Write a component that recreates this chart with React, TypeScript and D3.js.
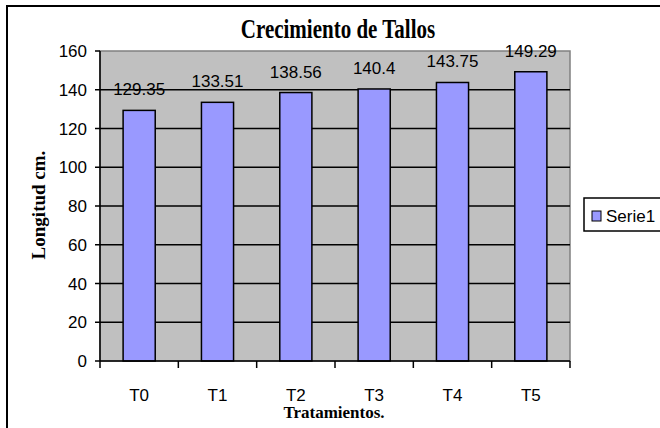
import { useEffect, useRef } from "react";
import * as d3 from "d3";

const categories = ["T0", "T1", "T2", "T3", "T4", "T5"];
const serie1 = [129.35, 133.51, 138.56, 140.4, 143.75, 149.29];
const yTicks = [0, 20, 40, 60, 80, 100, 120, 140, 160];

const SANS = "'Liberation Sans', Arial, sans-serif";
const SERIF = "'Liberation Serif', 'Times New Roman', serif";

export default function App() {
  const ref = useRef<SVGSVGElement>(null);

  useEffect(() => {
    const svg = d3.select(ref.current);
    svg.selectAll("*").remove();

    const plot = { left: 100, top: 51, right: 570, bottom: 361 };

    const x = d3
      .scaleBand()
      .domain(categories)
      .range([plot.left, plot.right])
      .padding(0);
    const y = d3.scaleLinear().domain([0, 160]).range([plot.bottom, plot.top]);
    const barW = x.bandwidth() * 0.41;

    // outer chart frame (clipped at right and bottom like the original)
    svg
      .append("rect")
      .attr("x", 7)
      .attr("y", 6)
      .attr("width", 700)
      .attr("height", 500)
      .attr("fill", "#fff")
      .attr("stroke", "#000")
      .attr("stroke-width", 2);

    // plot area
    svg
      .append("rect")
      .attr("x", plot.left)
      .attr("y", plot.top)
      .attr("width", plot.right - plot.left)
      .attr("height", plot.bottom - plot.top)
      .attr("fill", "#c0c0c0")
      .attr("stroke", "#808080")
      .attr("stroke-width", 1.5);

    // gridlines
    svg
      .append("g")
      .selectAll("line")
      .data(yTicks.filter((d) => d > 0 && d < 160))
      .join("line")
      .attr("x1", plot.left)
      .attr("x2", plot.right)
      .attr("y1", (d) => y(d))
      .attr("y2", (d) => y(d))
      .attr("stroke", "#000")
      .attr("stroke-width", 1.5);

    // bars
    svg
      .append("g")
      .selectAll("rect")
      .data(serie1)
      .join("rect")
      .attr("x", (_, i) => (x(categories[i]) as number) + x.bandwidth() / 2 - barW / 2)
      .attr("y", (d) => y(d))
      .attr("width", barW)
      .attr("height", (d) => plot.bottom - y(d))
      .attr("fill", "#9999ff")
      .attr("stroke", "#000")
      .attr("stroke-width", 1.5);

    // data labels
    svg
      .append("g")
      .selectAll("text")
      .data(serie1)
      .join("text")
      .attr("x", (_, i) => (x(categories[i]) as number) + x.bandwidth() / 2)
      .attr("y", (d) => y(d) - 15)
      .attr("text-anchor", "middle")
      .style("font-family", SANS)
      .style("font-size", "17px")
      .text((d) => String(d));

    // y axis
    const yAxis = svg.append("g");
    yAxis
      .append("line")
      .attr("x1", plot.left)
      .attr("x2", plot.left)
      .attr("y1", plot.top)
      .attr("y2", plot.bottom)
      .attr("stroke", "#000")
      .attr("stroke-width", 1.5);
    yAxis
      .selectAll("line.tick")
      .data(yTicks)
      .join("line")
      .attr("class", "tick")
      .attr("x1", plot.left - 5)
      .attr("x2", plot.left)
      .attr("y1", (d) => y(d))
      .attr("y2", (d) => y(d))
      .attr("stroke", "#000")
      .attr("stroke-width", 1.5);
    yAxis
      .selectAll("text")
      .data(yTicks)
      .join("text")
      .attr("x", 87)
      .attr("y", (d) => y(d))
      .attr("dy", "0.36em")
      .attr("text-anchor", "end")
      .style("font-family", SANS)
      .style("font-size", "17px")
      .text((d) => d);

    // x axis
    const xAxis = svg.append("g");
    xAxis
      .append("line")
      .attr("x1", plot.left)
      .attr("x2", plot.right)
      .attr("y1", plot.bottom)
      .attr("y2", plot.bottom)
      .attr("stroke", "#000")
      .attr("stroke-width", 1.5);
    const bounds = [...categories.map((c) => x(c) as number), plot.right];
    xAxis
      .selectAll("line.tick")
      .data(bounds)
      .join("line")
      .attr("class", "tick")
      .attr("x1", (d) => d)
      .attr("x2", (d) => d)
      .attr("y1", plot.bottom)
      .attr("y2", plot.bottom + 7)
      .attr("stroke", "#000")
      .attr("stroke-width", 1.5);
    xAxis
      .selectAll("text")
      .data(categories)
      .join("text")
      .attr("x", (d) => (x(d) as number) + x.bandwidth() / 2)
      .attr("y", 401)
      .attr("text-anchor", "middle")
      .style("font-family", SANS)
      .style("font-size", "17px")
      .text((d) => d);

    // title
    svg
      .append("text")
      .attr("transform", "translate(338,38) scale(1,1.25)")
      .attr("text-anchor", "middle")
      .style("font-family", SERIF)
      .style("font-weight", "bold")
      .style("font-size", "21px")
      .text("Crecimiento de Tallos");

    // axis titles
    svg
      .append("text")
      .attr("x", 334)
      .attr("y", 418)
      .attr("text-anchor", "middle")
      .style("font-family", SERIF)
      .style("font-weight", "bold")
      .style("font-size", "17px")
      .text("Tratamientos.");

    svg
      .append("text")
      .attr("transform", "translate(45,205) rotate(-90)")
      .attr("text-anchor", "middle")
      .style("font-family", SERIF)
      .style("font-weight", "bold")
      .style("font-size", "19px")
      .text("Longitud cm.");

    // legend
    const lg = svg.append("g");
    lg.append("rect")
      .attr("x", 584)
      .attr("y", 198)
      .attr("width", 120)
      .attr("height", 33)
      .attr("fill", "#fff")
      .attr("stroke", "#000")
      .attr("stroke-width", 1.5);
    lg.append("rect")
      .attr("x", 592)
      .attr("y", 211)
      .attr("width", 9)
      .attr("height", 10)
      .attr("fill", "#9999ff")
      .attr("stroke", "#000")
      .attr("stroke-width", 1);
    lg.append("text")
      .attr("x", 606)
      .attr("y", 222)
      .style("font-family", SANS)
      .style("font-size", "17px")
      .text("Serie1");
  }, []);

  return (
    <svg
      ref={ref}
      width={660}
      height={428}
      style={{ position: "absolute", left: 0, top: 0, background: "#fff" }}
    />
  );
}
